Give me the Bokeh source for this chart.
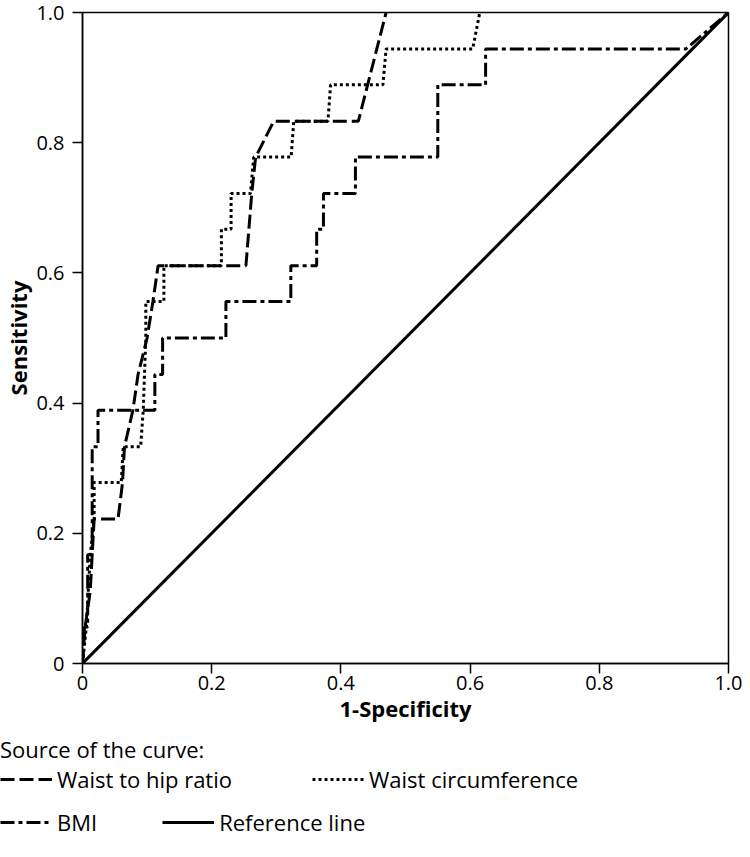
from bokeh.plotting import figure
from bokeh.models import Range1d, FixedTicker, Legend, LegendItem
from bokeh.embed import file_html
from bokeh.resources import INLINE

# ---- data ----
ratio_x = [0.0, 0.004, 0.012, 0.015, 0.018, 0.055, 0.062, 0.065, 0.078, 0.086, 0.100, 0.109, 0.117, 0.253, 0.262, 0.268, 0.296, 0.427, 0.470]
ratio_y = [0.0, 0.056, 0.111, 0.167, 0.222, 0.222, 0.278, 0.333, 0.389, 0.444, 0.500, 0.556, 0.611, 0.611, 0.722, 0.778, 0.833, 0.833, 1.000]

waist_x = [0.0, 0.006, 0.012, 0.018, 0.018, 0.060, 0.063, 0.090, 0.094, 0.096, 0.098, 0.098, 0.126, 0.126, 0.215, 0.215, 0.230, 0.230, 0.260, 0.265, 0.323, 0.327, 0.380, 0.384, 0.465, 0.470, 0.604, 0.615]
waist_y = [0.0, 0.056, 0.167, 0.222, 0.278, 0.278, 0.333, 0.333, 0.389, 0.444, 0.500, 0.556, 0.556, 0.611, 0.611, 0.667, 0.667, 0.722, 0.722, 0.778, 0.778, 0.833, 0.833, 0.889, 0.889, 0.944, 0.944, 1.000]

bmi_x = [0.0, 0.003, 0.008, 0.008, 0.015, 0.015, 0.024, 0.024, 0.112, 0.112, 0.124, 0.124, 0.222, 0.222, 0.3225, 0.3225, 0.3625, 0.3625, 0.373, 0.373, 0.4225, 0.4225, 0.550, 0.550, 0.624, 0.624, 0.934, 1.0]
bmi_y = [0.0, 0.056, 0.056, 0.167, 0.167, 0.333, 0.333, 0.389, 0.389, 0.444, 0.444, 0.500, 0.500, 0.556, 0.556, 0.611, 0.611, 0.667, 0.667, 0.722, 0.722, 0.778, 0.778, 0.889, 0.889, 0.944, 0.944, 1.0]

ref_x = [0.0, 1.0]
ref_y = [0.0, 1.0]

tick_vals = [0.0, 0.2, 0.4, 0.6, 0.8, 1.0]
tick_labels = ["0", "0.2", "0.4", "0.6", "0.8", "1.0"]

series_names = ["Waist to hip ratio", "Waist circumference", "BMI", "Reference line"]
series_dash = ["14 5", "3 3", "14 4 4 4", "solid"]

FONT = "Open Sans"
LEFT = 76
W = 742

p = figure(width=W, height=732, x_range=Range1d(0, 1), y_range=Range1d(0, 1),
           output_backend="svg", toolbar_location=None,
           min_border_left=LEFT, min_border_top=12, min_border_right=14, min_border_bottom=69)
p.xgrid.visible = False
p.ygrid.visible = False
p.outline_line_color = "black"
p.outline_line_width = 1.5
p.background_fill_color = "white"
p.border_fill_color = "white"

p.line(ref_x, ref_y, line_color="black", line_width=3, line_dash=series_dash[3])
p.line(bmi_x, bmi_y, line_color="black", line_width=3, line_dash=series_dash[2])
p.line(waist_x, waist_y, line_color="black", line_width=3, line_dash=series_dash[1])
p.line(ratio_x, ratio_y, line_color="black", line_width=3, line_dash=series_dash[0])

overrides = {v: t for v, t in zip(tick_vals, tick_labels)}
for ax in (p.xaxis[0], p.yaxis[0]):
    ax.ticker = FixedTicker(ticks=tick_vals)
    ax.major_label_overrides = overrides
    ax.minor_tick_line_color = None
    ax.major_tick_in = 0
    ax.major_tick_out = 10
    ax.major_tick_line_width = 1.5
    ax.axis_line_width = 1.5
    ax.major_label_text_font = FONT
    ax.major_label_text_font_size = "20px"
    ax.major_label_text_color = "black"
    ax.axis_label_text_font = FONT
    ax.axis_label_text_font_size = "22px"
    ax.axis_label_text_font_style = "bold"
    ax.axis_label_text_color = "black"

p.xaxis.axis_label = "1-Specificity"
p.yaxis.axis_label = "Sensitivity"
p.xaxis.major_label_standoff = 2
p.xaxis.axis_label_standoff = 0
p.yaxis.major_label_standoff = 8
p.yaxis.axis_label_standoff = 0

# ---- legend panel below the chart (separate root, so its frame starts at the page margin) ----
q = figure(width=W, height=105, x_range=Range1d(0, 1), y_range=Range1d(0, 1),
           output_backend="svg", toolbar_location=None,
           x_axis_location=None, y_axis_location=None, min_border=0)
q.xgrid.visible = False
q.ygrid.visible = False
q.outline_line_color = None
q.background_fill_color = "white"
q.border_fill_color = "white"

nan = float("nan")
sw = [q.line(x=[nan], y=[nan], line_color="black", line_width=3, line_dash=d) for d in series_dash]

common = dict(border_line_alpha=0, background_fill_alpha=0, padding=0, margin=0,
              glyph_width=52, glyph_height=20, label_standoff=5,
              label_text_font=FONT, label_text_font_size="22px", label_text_color="black",
              orientation="horizontal")

leg1 = Legend(items=[LegendItem(label=series_names[0], renderers=[sw[0]]),
                     LegendItem(label=series_names[1], renderers=[sw[1]])],
              location=(0, 43), spacing=80,
              title="Source of the curve:", title_text_font=FONT, title_text_font_size="22px",
              title_text_font_style="normal", title_text_color="black", title_standoff=0, **common)
leg2 = Legend(items=[LegendItem(label=series_names[2], renderers=[sw[2]]),
                     LegendItem(label=series_names[3], renderers=[sw[3]])],
              location=(0, 0), spacing=65, **common)
q.add_layout(leg1)
q.add_layout(leg2)

open("out.html", "w").write(file_html([p, q], INLINE))
